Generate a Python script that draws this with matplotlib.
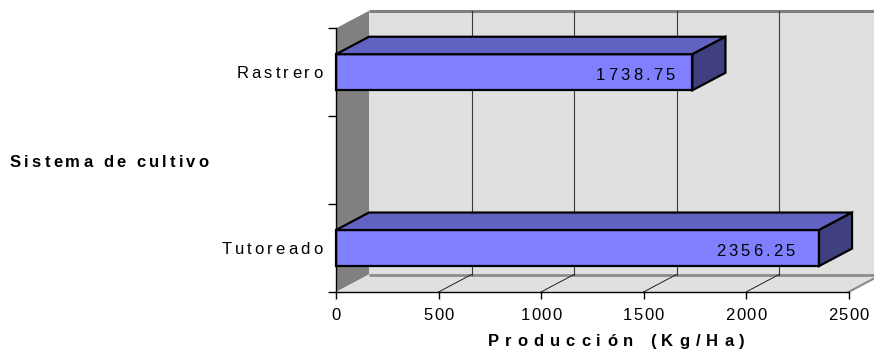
import numpy as np
import matplotlib
matplotlib.use("Agg")
import matplotlib.pyplot as plt
from matplotlib.patches import Polygon
from matplotlib import font_manager, ft2font

# Crop system (category axis has an empty slot between the two systems)
categories = ["Tutoreado", "", "Rastrero"]
production = [2356.25, np.nan, 1738.75]
x_ticks = [0, 500, 1000, 1500, 2000, 2500]
x_title = "Producción (Kg/Ha)"
y_title = "Sistema de cultivo"

DPI = 100
FONT = "Liberation Sans"
SIZE = 12
TRACK = 3.1          # extra pixels between glyphs (wide letter spacing)

fig = plt.figure(figsize=(8.74, 3.58), dpi=DPI)
ax = fig.add_axes([336 / 874, 66 / 358, 512.5 / 874, 263.7 / 358])
n = len(categories)
xmax = x_ticks[-1]
ax.set_xlim(0, xmax)
ax.set_ylim(0, n)
ax.patch.set_visible(False)
for side in ("top", "right"):
    ax.spines[side].set_visible(False)
for side in ("left", "bottom"):
    ax.spines[side].set_linewidth(1.0)
ax.set_xticks(x_ticks)
ax.set_yticks(range(n + 1))
ax.tick_params(axis="x", direction="out", length=7 * 72 / DPI, width=1,
               labelbottom=False)
ax.tick_params(axis="y", direction="out", length=8 * 72 / DPI, width=1,
               labelleft=False)

# depth of the 3-D box, in data units
DX = 161
DY = 0.199
BAR_H = 0.41

WALL = "#E0E0E0"
WALL_SIDE = "#808080"
FRONT = "#8080FF"
TOP = "#6262C2"
SIDE = "#404080"


def poly(pts, **kw):
    p = Polygon(pts, closed=True, clip_on=False, **kw)
    ax.add_patch(p)
    return p


# back wall, side wall and floor
poly([(DX, DY), (xmax + DX, DY), (xmax + DX, n + DY), (DX, n + DY)],
     fc=WALL, ec="none", zorder=0.5)
poly([(0, 0), (DX, DY), (DX, n + DY), (0, n)], fc=WALL_SIDE, ec="none",
     zorder=0.6)
poly([(0, 0), (xmax, 0), (xmax + DX, DY), (DX, DY)], fc=WALL, ec="none",
     zorder=0.6)
ax.plot([DX, xmax + DX], [n + DY, n + DY], color="#808080", lw=2.2,
        solid_capstyle="butt", clip_on=False, zorder=0.7)
ax.plot([DX, xmax + DX], [DY, DY], color="#8C8C8C", lw=2.0,
        solid_capstyle="butt", clip_on=False, zorder=0.7)
ax.plot([xmax, xmax + DX], [0, DY], color="#8C8C8C", lw=1.5,
        clip_on=False, zorder=0.7)

# gridlines on the back wall and across the floor
for t in x_ticks[1:]:
    ax.plot([t + DX, t + DX], [DY, n + DY], color="#3A3A3A", lw=0.8,
            clip_on=False, zorder=0.8)
for t in x_ticks[1:-1]:
    ax.plot([t, t + DX], [0, DY], color="#202020", lw=0.7,
            clip_on=False, zorder=0.8)

# 3-D bars
for i, v in enumerate(production):
    if np.isnan(v):
        continue
    y0 = i + 0.5 - BAR_H / 2
    y1 = y0 + BAR_H
    kw = dict(ec="black", lw=1.6, joinstyle="miter", zorder=2)
    poly([(0, y0), (v, y0), (v, y1), (0, y1)], fc=FRONT, **kw)
    poly([(0, y1), (v, y1), (v + DX, y1 + DY), (DX, y1 + DY)], fc=TOP, **kw)
    poly([(v, y0), (v + DX, y0 + DY), (v + DX, y1 + DY), (v, y1)], fc=SIDE,
         **kw)


def advances(s, weight):
    path = font_manager.findfont(
        font_manager.FontProperties(family=FONT, weight=weight))
    ft = ft2font.FT2Font(path)
    ft.set_size(SIZE, DPI)
    return [ft.load_char(ord(c)).linearHoriAdvance / 65536 for c in s]


def tracked_text(s, xy, xycoords, ha="left", dx=0, dy=0, weight="normal",
                 track=TRACK):
    """Draw s glyph by glyph with extra letter spacing (offsets in pixels)."""
    adv = advances(s, weight)
    total = sum(adv) + track * (len(s) - 1)
    x = dx - {"left": 0, "center": total / 2, "right": total}[ha]
    for ch, a in zip(s, adv):
        if not ch.isspace():
            ax.annotate(ch, xy=xy, xycoords=xycoords,
                        xytext=(x * 72 / DPI, dy * 72 / DPI),
                        textcoords="offset points", ha="left", va="baseline",
                        fontsize=SIZE, fontweight=weight, family=FONT,
                        color="black", annotation_clip=False, zorder=5)
        x += a + track


# category labels and value labels
for i, (name, v) in enumerate(zip(categories, production)):
    if name:
        tracked_text(name, (0, i + 0.5), "data", ha="right", dx=-14, dy=-6)
    if not np.isnan(v):
        tracked_text(f"{v:.2f}", (0.95 * v, i + 0.5), "data", ha="right",
                     dy=-8)

# x tick labels
for t in x_ticks:
    tracked_text(f"{t}", (t, 0), "data", ha="center", dy=-28, track=1.3)

# axis titles
tracked_text(x_title, (0.547, 0), "axes fraction", ha="center", dy=-54,
             weight="bold", track=6.0)
tracked_text(y_title, (10, n / 2), ("figure pixels", "data"), ha="left",
             dy=-6.5, weight="bold")

fig.savefig("out.png", dpi=DPI, facecolor="white")
